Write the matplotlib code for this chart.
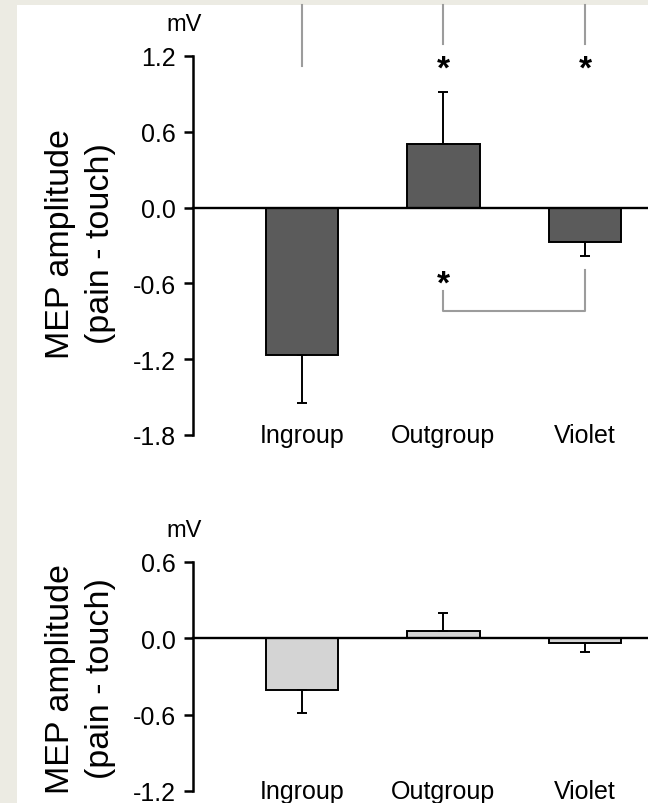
import matplotlib
matplotlib.use("Agg")
import matplotlib.pyplot as plt
from matplotlib.patches import Rectangle

plt.rcParams['font.family'] = ['Liberation Sans', 'DejaVu Sans']

# values (mV, pain - touch)
categories = ["Ingroup", "Outgroup", "Violet"]
top_means = [-1.17, 0.505, -0.27]
top_errs = [0.38, 0.41, 0.11]
bottom_means = [-0.405, 0.06, -0.038]
bottom_errs = [0.185, 0.14, 0.072]
top_ticks = [1.2, 0.6, 0.0, -0.6, -1.2, -1.8]
bottom_ticks = [0.6, 0.0, -0.6, -1.2]

W, H = 648, 804
fig = plt.figure(figsize=(W / 100, H / 100), dpi=100)
fig.patch.set_facecolor('#ecebe3')
fig.patches.append(Rectangle((17 / W, 0), 1 - 17 / W, 1 - 6 / H, transform=fig.transFigure,
                             facecolor='white', edgecolor='none', zorder=-10))

AX_LEFT = 193
GREY = '#9c9c9c'


def make_axes(top_px, bottom_px, ticks):
    ax = fig.add_axes([AX_LEFT / W, 1 - bottom_px / H, 1 - AX_LEFT / W, (bottom_px - top_px) / H])
    ax.set_facecolor('none')
    ax.set_xlim(-0.77, 2.445)
    ax.set_ylim(min(ticks), max(ticks))
    ax.set_yticks(ticks)
    ax.set_yticklabels([f"{t:.1f}" for t in ticks])
    ax.set_xticks([])
    for s in ['top', 'right']:
        ax.spines[s].set_visible(False)
    ax.spines['bottom'].set_position(('data', 0))
    ax.spines['bottom'].set_linewidth(1.7)
    ax.spines['left'].set_linewidth(1.8)
    ax.tick_params(axis='y', length=6.5, width=1.8, pad=6, labelsize=18, direction='out')
    # "mV" unit above the axis
    ax.annotate("mV", xy=(0, 1), xycoords='axes fraction', xytext=(-9, 32),
                textcoords='offset pixels', ha='center', va='center', fontsize=17)
    # category names level with the lowest tick
    for i, c in enumerate(categories):
        ax.text(i, min(ticks), c, ha='center', va='center', fontsize=18, clip_on=False)
    return ax


def draw_bars(ax, means, errs, color):
    xs = range(len(means))
    ax.bar(xs, means, width=0.51, color=color, edgecolor='black', linewidth=1.4, zorder=2)
    lower = [e if m < 0 else 0 for m, e in zip(means, errs)]
    upper = [e if m >= 0 else 0 for m, e in zip(means, errs)]
    ax.errorbar(xs, means, yerr=[lower, upper], fmt='none', ecolor='black',
                elinewidth=1.4, capsize=3.5, capthick=1.4, zorder=3)


ax1 = make_axes(57, 436, top_ticks)
draw_bars(ax1, top_means, top_errs, '#5b5b5b')

# significance markings
ax1.plot([0, 0], [1.602, 1.121], color=GREY, lw=1.5, clip_on=False)
for i in [1, 2]:
    ax1.plot([i, i], [1.602, 1.294], color=GREY, lw=1.5, clip_on=False)
    ax1.text(i, 1.10, "*", ha='center', va='center', fontsize=24, fontweight='bold')
ax1.plot([1, 1, 2, 2], [-0.663, -0.821, -0.821, -0.497], color=GREY, lw=1.5)
ax1.text(1, -0.605, "*", ha='center', va='center', fontsize=24, fontweight='bold')

ax2 = make_axes(563, 792, bottom_ticks)
draw_bars(ax2, bottom_means, bottom_errs, '#d4d4d4')

for cy in [244, 679]:
    fig.text(60 / W, 1 - cy / H, "MEP amplitude", rotation=90, ha='center', va='center', fontsize=24.5)
    fig.text(101 / W, 1 - cy / H, "(pain - touch)", rotation=90, ha='center', va='center', fontsize=24.5)

fig.savefig("out.png", dpi=100, facecolor=fig.get_facecolor())
